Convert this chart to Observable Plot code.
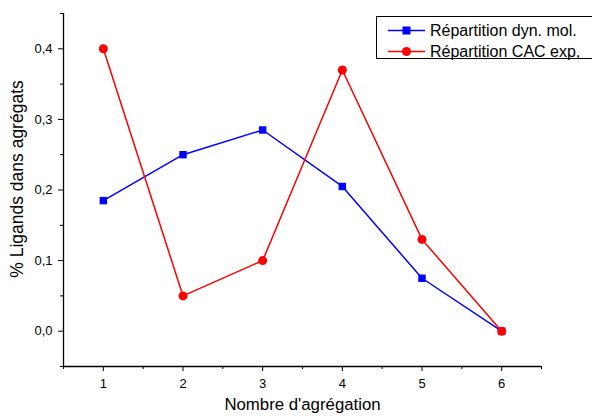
<!DOCTYPE html>
<html><head><meta charset="utf-8">
<script src="https://cdn.jsdelivr.net/npm/d3@7"></script>
<script src="https://cdn.jsdelivr.net/npm/@observablehq/plot@0.6"></script>
<style>
body{margin:0;background:#fff;}
#wrap{position:relative;width:592px;height:418px;overflow:hidden;font-family:"Liberation Sans",Arial,sans-serif;}
#legend{position:absolute;left:376px;top:16px;width:240px;height:43px;border:1px solid #000;background:#fff;box-sizing:border-box;}
</style></head><body>
<div id="wrap"><div id="chart"></div><div id="legend"></div></div>
<script>
const categories = [1, 2, 3, 4, 5, 6];
const dynMol = [0.185, 0.25, 0.285, 0.205, 0.075, 0.0];
const cacExp = [0.4, 0.05, 0.1, 0.37, 0.13, 0.0];
const seriesNames = ["Répartition dyn. mol.", "Répartition CAC exp,"];
const seriesColors = ["#0000ff", "#ff0000"];
const yMajor = [0, 0.1, 0.2, 0.3, 0.4];
const yMinor = [-0.05, 0.05, 0.15, 0.25, 0.35, 0.45];
const xMinor = [0.5, 1.5, 2.5, 3.5, 4.5, 5.5, 6.5];
const xTitle = "Nombre d'agrégation";
const yTitle = "% Ligands dans agrégats";

const blue = categories.map((c, i) => ({x: c, y: dynMol[i]}));
const red = categories.map((c, i) => ({x: c, y: cacExp[i]}));
const fmt = d => d.toFixed(1).replace(".", ",");

const chart = Plot.plot({
  width: 592, height: 418,
  marginLeft: 63, marginRight: 51, marginTop: 13, marginBottom: 52,
  style: {fontFamily: "Liberation Sans, Arial, sans-serif", fontSize: "13px", color: "#000", background: "#fff"},
  x: {domain: [0.5, 6.5]},
  y: {domain: [-0.05, 0.45]},
  marks: [
    Plot.axisX({ticks: categories, tickSize: 5, tickPadding: 7, fontSize: 13, label: null, tickFormat: d => String(d)}),
    Plot.axisX({ticks: xMinor, tickSize: 3, text: null, label: null}),
    Plot.axisY({ticks: yMajor, tickSize: 5, tickPadding: 6, fontSize: 13, tickFormat: fmt, label: null}),
    Plot.axisY({ticks: yMinor, tickSize: 3, text: null, label: null}),
    Plot.text([xTitle], {text: d => d, frameAnchor: "bottom", textAnchor: "middle", dy: 43, fontSize: 16.8, fill: "#000"}),
    Plot.text([yTitle], {text: d => d, frameAnchor: "left", textAnchor: "middle", dx: -46, dy: -11, rotate: -90, fontSize: 17.5, fill: "#000"}),
    Plot.ruleX([0.5], {stroke: "#000", strokeWidth: 1.3}),
    Plot.ruleY([-0.05], {stroke: "#000", strokeWidth: 1.3}),
    Plot.line(blue, {x: "x", y: "y", stroke: seriesColors[0], strokeWidth: 1.5}),
    Plot.dot(blue, {x: "x", y: "y", symbol: "square", r: 4.2, fill: seriesColors[0], stroke: "none"}),
    Plot.line(red, {x: "x", y: "y", stroke: seriesColors[1], strokeWidth: 1.5}),
    Plot.dot(red, {x: "x", y: "y", symbol: "circle", r: 4.5, fill: seriesColors[1], stroke: "none"})
  ]
});
document.getElementById("chart").appendChild(chart);

// legend
const leg = d3.select("#legend").append("svg").attr("width", 240).attr("height", 43);
seriesNames.forEach((name, i) => {
  const g = leg.append("g").attr("transform", `translate(0,${13.5 + i * 21})`);
  g.append("line").attr("x1", 11).attr("x2", 48).attr("stroke", seriesColors[i]).attr("stroke-width", 1.5);
  if (i === 0) g.append("rect").attr("x", 25.5).attr("y", -4).attr("width", 8).attr("height", 8).attr("fill", seriesColors[i]);
  else g.append("circle").attr("cx", 29.5).attr("cy", 0).attr("r", 4.5).attr("fill", seriesColors[i]);
  g.append("text").attr("x", 53).attr("y", 5.5).attr("font-size", 16).attr("font-family", "Liberation Sans, Arial, sans-serif").text(name);
});
</script>
</body></html>
